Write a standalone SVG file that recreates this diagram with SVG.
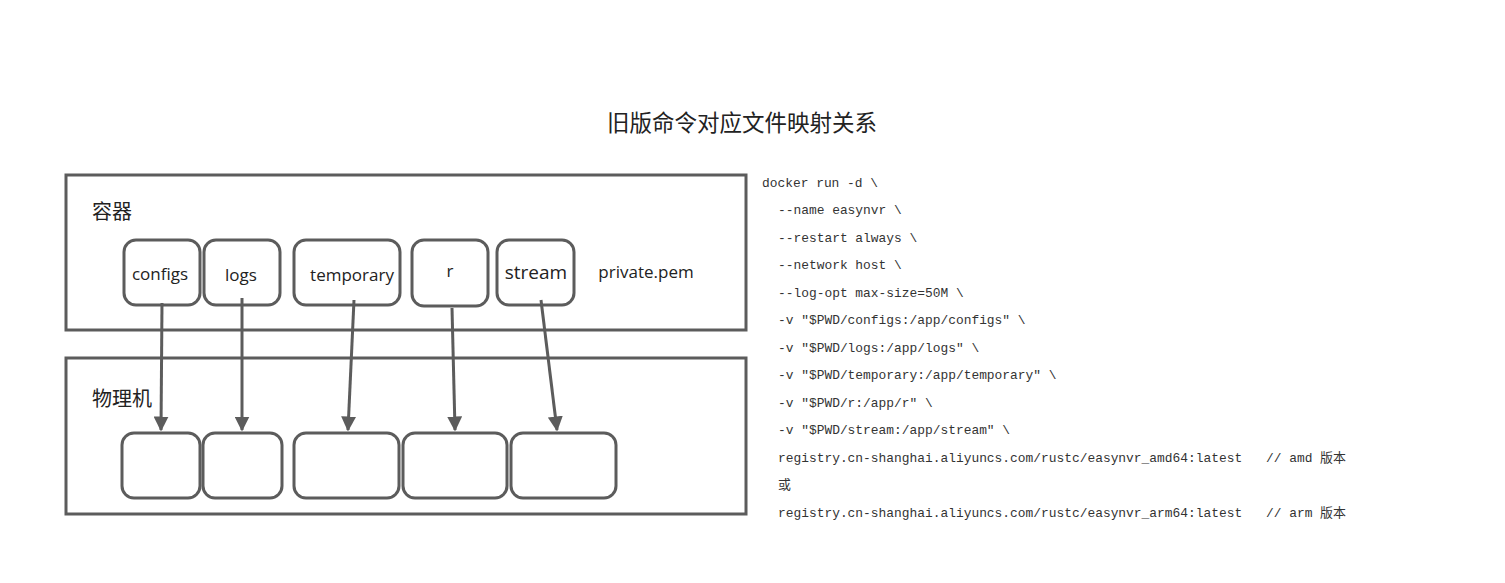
<svg xmlns="http://www.w3.org/2000/svg" width="1505" height="583" viewBox="0 0 1505 583">
<style>
.frame{fill:#fff;stroke:#5c5c5c;stroke-width:3}
.box{fill:#fff;stroke:#5c5c5c;stroke-width:3}
.lbl{font-family:"Open Sans","Noto Sans","Noto Sans CJK SC",sans-serif;font-size:17px;fill:#222;text-anchor:middle}
.zh{font-family:"Noto Sans CJK SC",sans-serif;font-size:20px;fill:#222}
.title{font-family:"Noto Sans CJK SC",sans-serif;font-size:22.5px;fill:#222;text-anchor:middle}
.code{font-family:"Liberation Mono",monospace;font-size:12.9px;fill:#333}
.cjk{font-family:"Noto Sans CJK SC",sans-serif}
.con{stroke:#5c5c5c;stroke-width:3;fill:none;marker-end:url(#ah)}
</style>
<defs><marker id="ah" viewBox="0 0 10 10" refX="9" refY="5" markerWidth="5" markerHeight="5" orient="auto" markerUnits="strokeWidth"><path d="M0,0L10,5L0,10z" fill="#5c5c5c"/></marker></defs>
<rect width="1505" height="583" fill="#fff"/>
<text x="742" y="131" class="title">旧版命令对应文件映射关系</text>
<g id="container"><rect class="frame" x="66" y="175" width="680" height="155"/><text x="92" y="219" class="zh">容器</text></g>
<g id="host"><rect class="frame" x="66" y="358" width="680" height="156"/><text x="92" y="406" class="zh">物理机</text></g>
<g id="configs"><rect class="box" x="124" y="240" width="76" height="65" rx="12"/><text x="160" y="280" class="lbl">configs</text></g>
<g id="logs"><rect class="box" x="204" y="240" width="76" height="65" rx="12"/><text x="241" y="281" class="lbl">logs</text></g>
<g id="temporary"><rect class="box" x="294" y="240" width="106" height="65" rx="12"/><text x="352" y="281" class="lbl">temporary</text></g>
<g id="r"><rect class="box" x="412" y="240" width="76" height="66" rx="12"/><text x="450" y="277" class="lbl">r</text></g>
<g id="stream"><rect class="box" x="497" y="240" width="77" height="65" rx="12"/><text x="536" y="279" class="lbl" style="font-size:19px">stream</text></g>
<g id="privatepem"><text x="646" y="278" class="lbl">private.pem</text></g>
<g id="h1"><rect class="box" x="122" y="433" width="78" height="65" rx="12"/></g>
<g id="h2"><rect class="box" x="203" y="433" width="79" height="65" rx="12"/></g>
<g id="h3"><rect class="box" x="294" y="433" width="105" height="65" rx="12"/></g>
<g id="h4"><rect class="box" x="403" y="433" width="104" height="65" rx="12"/></g>
<g id="h5"><rect class="box" x="511" y="433" width="105" height="65" rx="12"/></g>
<g id="connectors">
<line class="con" x1="162" y1="303" x2="161" y2="430"/>
<line class="con" x1="242" y1="298" x2="242" y2="430"/>
<line class="con" x1="354" y1="300" x2="348" y2="430"/>
<line class="con" x1="452" y1="308" x2="455" y2="430"/>
<line class="con" x1="541" y1="300" x2="557" y2="430"/>
</g>
<g id="code" class="code">
<text x="762" y="187">docker run -d \</text>
<text x="778" y="214">--name easynvr \</text>
<text x="778" y="242">--restart always \</text>
<text x="778" y="269">--network host \</text>
<text x="778" y="297">--log-opt max-size=50M \</text>
<text x="778" y="324">-v "$PWD/configs:/app/configs" \</text>
<text x="778" y="352">-v "$PWD/logs:/app/logs" \</text>
<text x="778" y="379">-v "$PWD/temporary:/app/temporary" \</text>
<text x="778" y="407">-v "$PWD/r:/app/r" \</text>
<text x="778" y="434">-v "$PWD/stream:/app/stream" \</text>
<text x="778" y="462">registry.cn-shanghai.aliyuncs.com/rustc/easynvr_amd64:latest<tspan x="1266">// amd</tspan><tspan x="1320" class="cjk">版本</tspan></text>
<text x="778" y="489" class="cjk">或</text>
<text x="778" y="517">registry.cn-shanghai.aliyuncs.com/rustc/easynvr_arm64:latest<tspan x="1266">// arm</tspan><tspan x="1320" class="cjk">版本</tspan></text>
</g>
</svg>
